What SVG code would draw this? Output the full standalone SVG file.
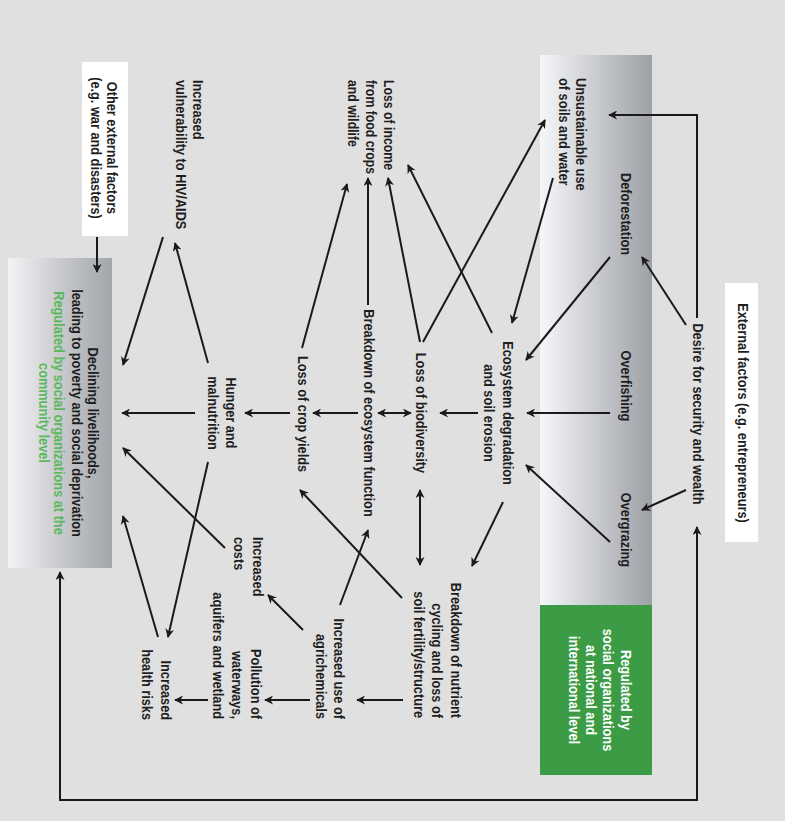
<svg xmlns="http://www.w3.org/2000/svg" width="785" height="821" viewBox="0 0 785 821">
<defs>
<linearGradient id="gBox" x1="0" y1="0" x2="1" y2="0">
<stop offset="0" stop-color="#f6f7f9"/>
<stop offset="0.5" stop-color="#c9cbcf"/>
<stop offset="1" stop-color="#9da0a5"/>
</linearGradient>
<linearGradient id="gDecl" x1="0" y1="0" x2="1" y2="0">
<stop offset="0" stop-color="#f3f4f6"/>
<stop offset="0.5" stop-color="#c8cacd"/>
<stop offset="1" stop-color="#a2a5a9"/>
</linearGradient>
<marker id="ah" viewBox="0 0 10 10" refX="9" refY="5" markerWidth="11" markerHeight="9" markerUnits="userSpaceOnUse" orient="auto-start-reverse">
<path d="M0,0 L10,5 L0,10 L3,5 z" fill="#1a1a1a"/>
</marker>
</defs>
<style>
text{font-family:"Liberation Sans Narrow","Liberation Sans",Arial,sans-serif;font-weight:bold;font-size:15px;fill:#1e1e1e}
.m{text-anchor:middle}
.e{text-anchor:end}
.w{fill:#ffffff}
.gr{fill:#5cb85c}
.c line,.c polyline{stroke:#1a1a1a;stroke-width:2;fill:none;marker-end:url(#ah)}
.c .d{marker-start:url(#ah)}
</style>
<rect x="0" y="0" width="785" height="821" fill="#e0e0e0"/>

<g id="region-main">
<rect x="540" y="55" width="112" height="550" fill="url(#gBox)"/>
</g>
<g id="n-regulated-national">
<rect x="540" y="605" width="112" height="170" fill="#3c9c45"/>
<g transform="translate(620.5,690) rotate(90) scale(0.85,1)">
<text class="m w" x="0" y="0">Regulated by</text>
<text class="m w" x="0" y="17.3">social organizations</text>
<text class="m w" x="0" y="34.6">at national and</text>
<text class="m w" x="0" y="51.9">international level</text>
</g>
</g>
<g id="n-declining">
<rect x="8" y="258" width="104" height="310" fill="url(#gDecl)"/>
<g transform="translate(87.5,413) rotate(90) scale(0.85,1)">
<text class="m" x="0" y="0">Declining livelihoods,</text>
<text class="m" x="0" y="16">leading to poverty and social deprivation</text>
<text class="m gr" x="0" y="34">Regulated by social organizations at the</text>
<text class="m gr" x="0" y="49">community level</text>
</g>
</g>
<g id="n-external">
<rect x="725" y="283" width="33" height="259" fill="#ffffff"/>
<text class="m" transform="translate(737.5,413) rotate(90) scale(0.85,1)">External factors (e.g. entrepreneurs)</text>
</g>
<g id="n-other-external">
<rect x="82" y="62" width="46" height="174" fill="#ffffff"/>
<g transform="translate(106.5,148) rotate(90) scale(0.85,1)">
<text class="m" x="0" y="0">Other external factors</text>
<text class="m" x="0" y="16">(e.g. war and disasters)</text>
</g>
</g>
<g id="n-desire"><text class="m" transform="translate(692.5,414) rotate(90) scale(0.85,1)">Desire for security and wealth</text></g>
<g id="n-unsustainable">
<g transform="translate(575.5,78) rotate(90) scale(0.85,1)">
<text x="0" y="0">Unsustainable use</text>
<text x="0" y="17">of soils and water</text>
</g>
</g>
<g id="n-deforestation"><text class="m" transform="translate(620.5,214) rotate(90) scale(0.85,1)">Deforestation</text></g>
<g id="n-overfishing"><text class="m" transform="translate(620.5,386) rotate(90) scale(0.85,1)">Overfishing</text></g>
<g id="n-overgrazing"><text class="m" transform="translate(620.5,530) rotate(90) scale(0.85,1)">Overgrazing</text></g>
<g id="n-ecosystem">
<g transform="translate(502.5,413) rotate(90) scale(0.85,1)">
<text class="m" x="0" y="0">Ecosystem degradation</text>
<text class="m" x="0" y="19">and soil erosion</text>
</g>
</g>
<g id="n-biodiversity"><text class="m" transform="translate(415.5,413) rotate(90) scale(0.85,1)">Loss of biodiversity</text></g>
<g id="n-eco-function"><text class="m" transform="translate(363.5,413) rotate(90) scale(0.85,1)">Breakdown of ecosystem function</text></g>
<g id="n-crop-yields"><text class="m" transform="translate(297.5,414) rotate(90) scale(0.85,1)">Loss of crop yields</text></g>
<g id="n-hunger">
<g transform="translate(225.5,413) rotate(90) scale(0.85,1)">
<text class="m" x="0" y="0">Hunger and</text>
<text class="m" x="0" y="18">malnutrition</text>
</g>
</g>
<g id="n-income">
<g transform="translate(383.5,80) rotate(90) scale(0.82,1)">
<text x="0" y="0">Loss of income</text>
<text x="0" y="18">from food crops</text>
<text x="0" y="36">and wildlife</text>
</g>
</g>
<g id="n-hiv">
<g transform="translate(192.5,80) rotate(90) scale(0.85,1)">
<text x="0" y="0">Increased</text>
<text x="0" y="17">vulnerability to HIV/AIDS</text>
</g>
</g>
<g id="n-nutrient">
<g transform="translate(450.5,718) rotate(90) scale(0.85,1)">
<text class="e" x="0" y="0">Breakdown of nutrient</text>
<text class="e" x="0" y="18.5">cycling and loss of</text>
<text class="e" x="0" y="37">soil fertility/structure</text>
</g>
</g>
<g id="n-agrichemicals">
<g transform="translate(333.5,719) rotate(90) scale(0.85,1)">
<text class="e" x="0" y="0">Increased use of</text>
<text class="e" x="0" y="18">agrichemicals</text>
</g>
</g>
<g id="n-costs">
<g transform="translate(252.5,537) rotate(90) scale(0.85,1)">
<text x="0" y="0">Increased</text>
<text x="0" y="19">costs</text>
</g>
</g>
<g id="n-pollution">
<g transform="translate(250.5,719) rotate(90) scale(0.85,1)">
<text class="e" x="0" y="0">Pollution of</text>
<text class="e" x="0" y="19">waterways,</text>
<text class="e" x="0" y="38">aquifers and wetland</text>
</g>
</g>
<g id="n-health">
<g transform="translate(160.5,720) rotate(90) scale(0.85,1)">
<text class="e" x="0" y="0">Increased</text>
<text class="e" x="0" y="19">health risks</text>
</g>
</g>

<g id="connectors" class="c">
<polyline points="697,318 697,115 609,115"/>
<polyline class="d" points="60,572 60,800 697,800 697,527"/>
<line x1="686" y1="325" x2="642" y2="257"/>
<line x1="686" y1="490" x2="642" y2="510"/>
<line x1="610" y1="257" x2="526" y2="360"/>
<line x1="610" y1="413" x2="527" y2="413"/>
<line x1="610" y1="542" x2="526" y2="465"/>
<line x1="553" y1="178" x2="512" y2="323"/>
<line x1="423" y1="342" x2="545" y2="120"/>
<line x1="492" y1="333" x2="408" y2="165"/>
<line x1="478" y1="413" x2="440" y2="413"/>
<line x1="503" y1="502" x2="472" y2="566"/>
<line class="d" x1="378" y1="413" x2="411" y2="413"/>
<line x1="420" y1="342" x2="388" y2="178"/>
<line class="d" x1="420" y1="490" x2="420" y2="565"/>
<line x1="368" y1="305" x2="368" y2="178"/>
<line x1="302" y1="348" x2="347" y2="184"/>
<line x1="358" y1="413" x2="313" y2="413"/>
<line x1="290" y1="413" x2="245" y2="413"/>
<line x1="195" y1="413" x2="122" y2="413"/>
<line x1="208" y1="363" x2="175" y2="243"/>
<line x1="163" y1="237" x2="123" y2="365"/>
<line x1="208" y1="462" x2="168" y2="637"/>
<line x1="225" y1="548" x2="123" y2="448"/>
<line x1="158" y1="637" x2="123" y2="516"/>
<line x1="402" y1="598" x2="300" y2="490"/>
<line x1="340" y1="605" x2="368" y2="530"/>
<line x1="303" y1="630" x2="268" y2="595"/>
<line x1="403" y1="700" x2="357" y2="700"/>
<line x1="310" y1="700" x2="265" y2="700"/>
<line x1="208" y1="700" x2="175" y2="700"/>
<line x1="97" y1="237" x2="97" y2="272"/>
</g>
</svg>
